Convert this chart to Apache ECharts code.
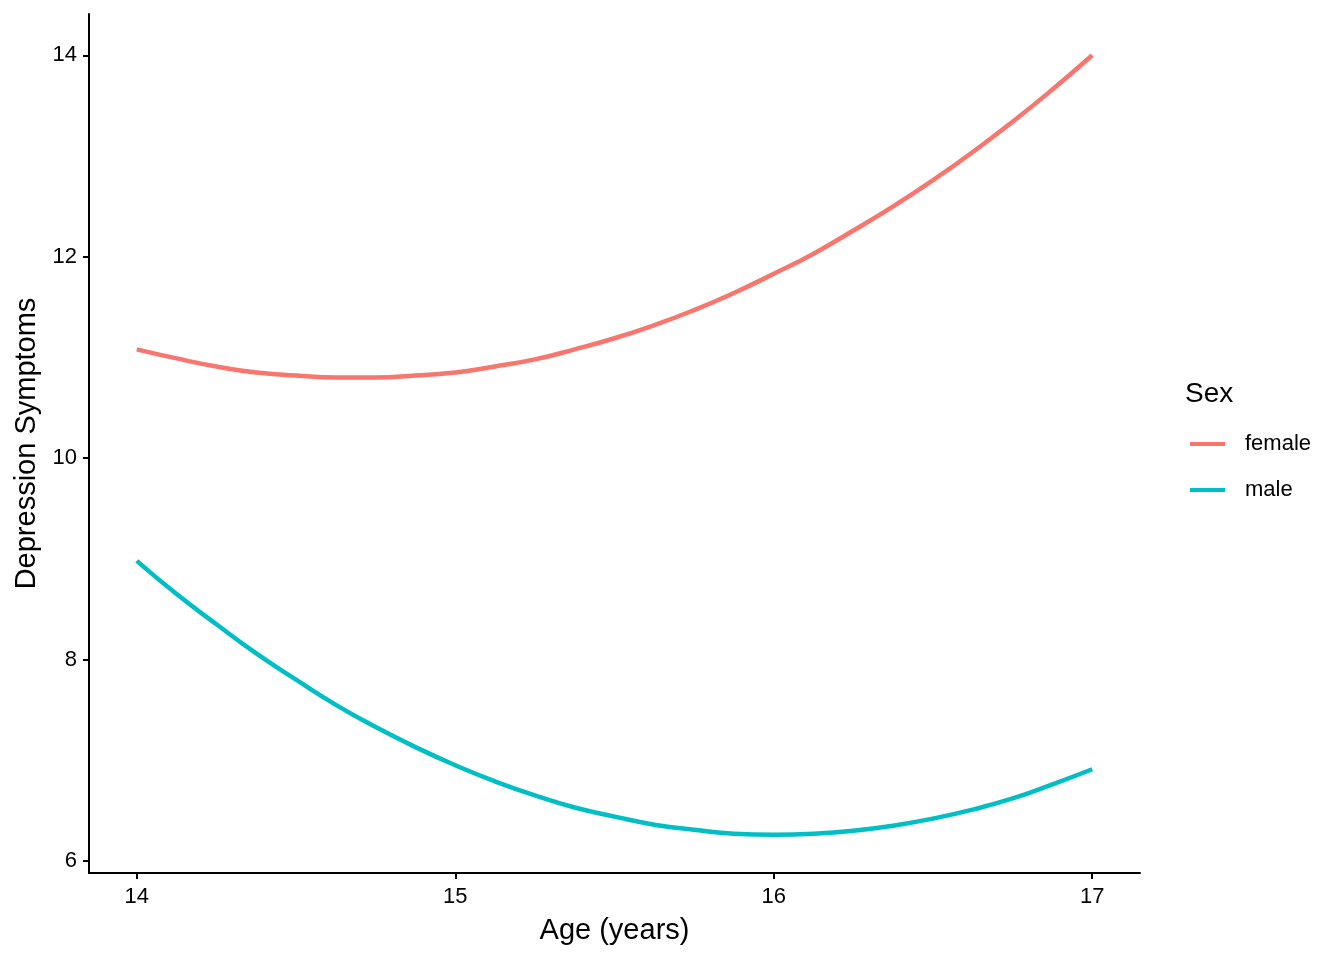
<!DOCTYPE html>
<html>
<head>
<meta charset="utf-8">
<script src="https://cdn.jsdelivr.net/npm/echarts@6/dist/echarts.min.js"></script>
<style>
html,body{margin:0;padding:0;background:#fff;}
#chart{width:1344px;height:960px;}
</style>
</head>
<body>
<div id="chart"></div>
<script>
// Data
const ages = [14, 14.125, 14.25, 14.375, 14.5, 14.625, 14.75, 14.875, 15, 15.125, 15.25, 15.375, 15.5,
              15.625, 15.75, 15.875, 16, 16.125, 16.25, 16.375, 16.5, 16.625, 16.75, 16.875, 17];
const femaleValues = [11.08, 10.99, 10.91, 10.85, 10.82, 10.80, 10.80, 10.82, 10.85, 10.91, 10.98, 11.08, 11.19,
                      11.32, 11.47, 11.64, 11.83, 12.03, 12.26, 12.50, 12.76, 13.04, 13.34, 13.66, 14.00];
const maleValues = [8.98, 8.65, 8.35, 8.06, 7.80, 7.55, 7.33, 7.13, 6.95, 6.79, 6.65, 6.53, 6.44,
                    6.36, 6.31, 6.27, 6.26, 6.27, 6.30, 6.35, 6.42, 6.51, 6.62, 6.76, 6.91];
const xTicks = [14, 15, 16, 17];
const yTicks = [6, 8, 10, 12, 14];
const seriesNames = ['female', 'male'];
const colors = ['#F8766D', '#00BFC4'];

const pairs = (xs, ys) => xs.map((x, i) => [x, ys[i]]);
const font = '"Liberation Sans", Arial, sans-serif';

const chart = echarts.init(document.getElementById('chart'), null, {renderer: 'canvas'});
chart.setOption({
  backgroundColor: '#ffffff',
  animation: false,
  color: colors,
  title: {
    text: 'Sex',
    left: 1180,
    top: 375,
    textStyle: {fontFamily: font, fontSize: 28, fontWeight: 'normal', color: '#000'}
  },
  legend: {
    orient: 'vertical',
    left: 1190,
    top: 432,
    padding: 0,
    data: seriesNames,
    icon: 'rect',
    itemWidth: 35,
    itemHeight: 4,
    itemGap: 22,
    textStyle: {fontFamily: font, fontSize: 22, color: '#000', lineHeight: 24, padding: [0, 0, 0, 15]}
  },
  grid: {
    left: 89, right: 204, top: 14, bottom: 87,
    containLabel: false,
    outerBoundsMode: 'none'
  },
  xAxis: {
    type: 'value',
    min: 13.85,
    max: 17.15,
    name: 'Age (years)',
    nameLocation: 'middle',
    nameGap: 43,
    nameTextStyle: {fontFamily: font, fontSize: 29, color: '#000'},
    axisLine: {show: true, onZero: false, lineStyle: {color: '#000', width: 2}},
    axisTick: {show: true, length: 6, lineStyle: {color: '#000', width: 2}, customValues: xTicks},
    axisLabel: {fontFamily: font, fontSize: 22, color: '#000', margin: 13, customValues: xTicks},
    splitLine: {show: false}
  },
  yAxis: {
    type: 'value',
    min: 5.88,
    max: 14.41,
    name: 'Depression Symptoms',
    nameLocation: 'middle',
    nameGap: 48,
    nameTextStyle: {fontFamily: font, fontSize: 29, color: '#000'},
    axisLine: {show: true, onZero: false, lineStyle: {color: '#000', width: 2}},
    axisTick: {show: true, length: 6, lineStyle: {color: '#000', width: 2}, customValues: yTicks},
    axisLabel: {fontFamily: font, fontSize: 22, color: '#000', margin: 12, customValues: yTicks},
    splitLine: {show: false}
  },
  series: [
    {
      name: seriesNames[0],
      type: 'line',
      data: pairs(ages, femaleValues),
      smooth: 0.5,
      showSymbol: false,
      symbol: 'none',
      lineStyle: {width: 4.5, color: colors[0]},
      itemStyle: {color: colors[0]}
    },
    {
      name: seriesNames[1],
      type: 'line',
      data: pairs(ages, maleValues),
      smooth: 0.5,
      showSymbol: false,
      symbol: 'none',
      lineStyle: {width: 4.5, color: colors[1]},
      itemStyle: {color: colors[1]}
    }
  ]
});
</script>
</body>
</html>
